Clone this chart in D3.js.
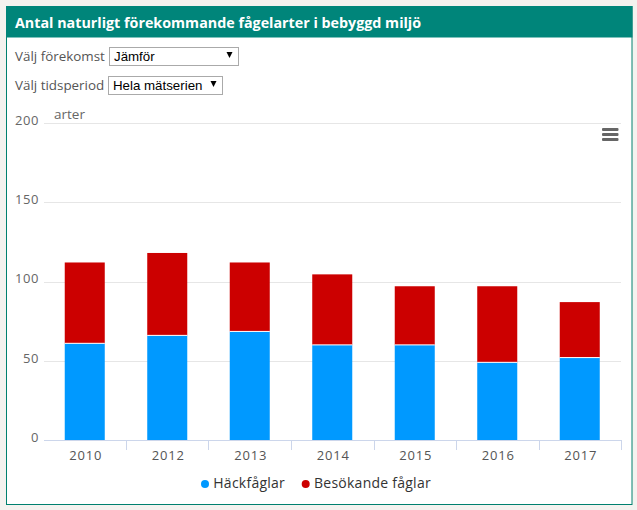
<!DOCTYPE html>
<html>
<head>
<meta charset="utf-8">
<title>Antal naturligt förekommande fågelarter i bebyggd miljö</title>
<script src="https://cdn.jsdelivr.net/npm/d3@7"></script>
<style>
  html, body { margin: 0; padding: 0; background: #f4f2ef; overflow: hidden; }
  #chart { display: block; }
  text { font-family: "Open Sans", sans-serif; }
</style>
</head>
<body>
<div id="chart"></div>
<script>
const title = "Antal naturligt förekommande fågelarter i bebyggd miljö";
const years = ["2010", "2012", "2013", "2014", "2015", "2016", "2017"];
const hackfaglar = [61, 66, 68.5, 60, 60, 49, 52];
const besokande = [51, 52, 43.5, 44.5, 37, 48, 35];
const seriesNames = ["Häckfåglar", "Besökande fåglar"];
const seriesColors = ["#0099ff", "#cc0000"];
const yTicks = [0, 50, 100, 150, 200];

const width = 637, height = 510;
const margin = { top: 123, right: 16, bottom: 70, left: 44 };

const svg = d3.select("#chart").append("svg")
  .attr("width", width)
  .attr("height", height)
  .attr("viewBox", [0, 0, width, height]);

// panel and header
svg.append("rect").attr("x", 6.5).attr("y", 6.5).attr("width", 625.5).attr("height", 498)
  .attr("fill", "#fff").attr("stroke", "#00806f").attr("stroke-width", 1);
svg.append("rect").attr("x", 6).attr("y", 6).attr("width", 626.5).attr("height", 31.5)
  .attr("fill", "#00857a");
svg.append("text").attr("x", 15).attr("y", 27.5)
  .attr("fill", "#fff").attr("font-size", 14.3).attr("font-weight", 700)
  .text(title);

// dropdowns, with the small black arrow drawn on top
function dropdown(y, label, value, x, w) {
  svg.append("text").attr("x", 15).attr("y", y + 14)
    .attr("fill", "#555").attr("font-size", 13.4).text(label);
  const fo = svg.append("foreignObject")
    .attr("x", x).attr("y", y).attr("width", w).attr("height", 20);
  const sel = fo.append("xhtml:select")
    .style("appearance", "none").style("-webkit-appearance", "none")
    .style("display", "block").style("box-sizing", "border-box")
    .style("width", w + "px").style("height", "19px")
    .style("font", "13.3px 'Liberation Sans', Arial, sans-serif")
    .style("background", "#fff").style("color", "#000")
    .style("border", "1px solid #aaa").style("border-radius", "0")
    .style("padding", "0 0 0 4px").style("margin", "0");
  sel.append("xhtml:option").text(value);
  const ax = x + w - 12.5, ay = y + 5;
  svg.append("path")
    .attr("d", `M${ax},${ay}h6l-3,6z`)
    .attr("fill", "#000");
}
dropdown(47, "Välj förekomst", "Jämför", 109, 130);
dropdown(76, "Välj tidsperiod", "Hela mätserien", 108, 115);

const x = d3.scaleBand()
  .domain(years)
  .range([43.5, 621])
  .paddingInner(0.515)
  .paddingOuter(0.2575);

const y = d3.scaleLinear()
  .domain([0, 200])
  .range([height - margin.bottom, margin.top]);

// gridlines
svg.append("g").selectAll("line")
  .data(yTicks.filter(d => d > 0))
  .join("line")
    .attr("x1", margin.left)
    .attr("x2", width - margin.right)
    .attr("y1", d => Math.round(y(d)) + 0.5)
    .attr("y2", d => Math.round(y(d)) + 0.5)
    .attr("stroke", "#e6e6e6");

// stacked bars
const rows = years.map((year, i) => ({ year, a: hackfaglar[i], b: besokande[i] }));
const stacked = d3.stack().keys(["a", "b"])(rows);

svg.append("g").selectAll("g")
  .data(stacked)
  .join("g")
    .attr("fill", (d, i) => seriesColors[i])
  .selectAll("rect")
  .data(d => d)
  .join("rect")
    .attr("x", d => x(d.data.year))
    .attr("y", d => y(d[1]))
    .attr("width", x.bandwidth())
    .attr("height", d => y(d[0]) - y(d[1]));

// white separator between the stack segments
svg.append("g").selectAll("line")
  .data(rows)
  .join("line")
    .attr("x1", d => x(d.year))
    .attr("x2", d => x(d.year) + x.bandwidth())
    .attr("y1", d => y(d.a))
    .attr("y2", d => y(d.a))
    .attr("stroke", "#fff")
    .attr("stroke-width", 1);

// x axis
const step = x.step();
const xAxis = svg.append("g")
  .attr("transform", `translate(0,${height - margin.bottom})`)
  .call(d3.axisBottom(x).tickSize(0).tickPadding(11));
xAxis.select(".domain").attr("stroke", "#ccd6eb").attr("d", `M${margin.left},0.5H${width - margin.right}`);
xAxis.selectAll("text")
  .attr("fill", "#555").attr("font-size", 13).attr("letter-spacing", 0.8)
  .attr("font-family", "'Open Sans', sans-serif")
  .attr("dx", 1);
svg.append("g").selectAll("line")
  .data(years)
  .join("line")
    .attr("x1", d => Math.round(x(d) + x.bandwidth() / 2 + step / 2) + 0.5)
    .attr("x2", d => Math.round(x(d) + x.bandwidth() / 2 + step / 2) + 0.5)
    .attr("y1", height - margin.bottom)
    .attr("y2", height - margin.bottom + 10)
    .attr("stroke", "#ccd6eb");

// y axis labels
const yAxis = svg.append("g")
  .attr("transform", `translate(${margin.left},0)`)
  .call(d3.axisLeft(y).tickValues(yTicks).tickSize(0).tickPadding(5));
yAxis.select(".domain").remove();
yAxis.selectAll("text")
  .attr("fill", "#666").attr("font-size", 13).attr("letter-spacing", 0.6)
  .attr("font-family", "'Open Sans', sans-serif")
  .attr("dy", "0.1em");

svg.append("text").attr("x", 54).attr("y", 119)
  .attr("fill", "#666").attr("font-size", 13.5).text("arter");

// hamburger menu
svg.append("g").selectAll("rect")
  .data(d3.range(3))
  .join("rect")
    .attr("x", 602).attr("y", i => 128 + i * 5)
    .attr("width", 16.5).attr("height", 3).attr("rx", 1)
    .attr("fill", "#666");

// legend
const legend = svg.append("g").attr("font-size", 14).attr("fill", "#333");
const legendX = [201, 301.7];
seriesNames.forEach((name, i) => {
  legend.append("circle").attr("cx", legendX[i] + 4).attr("cy", 484).attr("r", 4)
    .attr("fill", seriesColors[i]);
  legend.append("text").attr("x", legendX[i] + 12.3).attr("y", 488)
    .attr("letter-spacing", 0.25).text(name);
});
</script>
</body>
</html>
